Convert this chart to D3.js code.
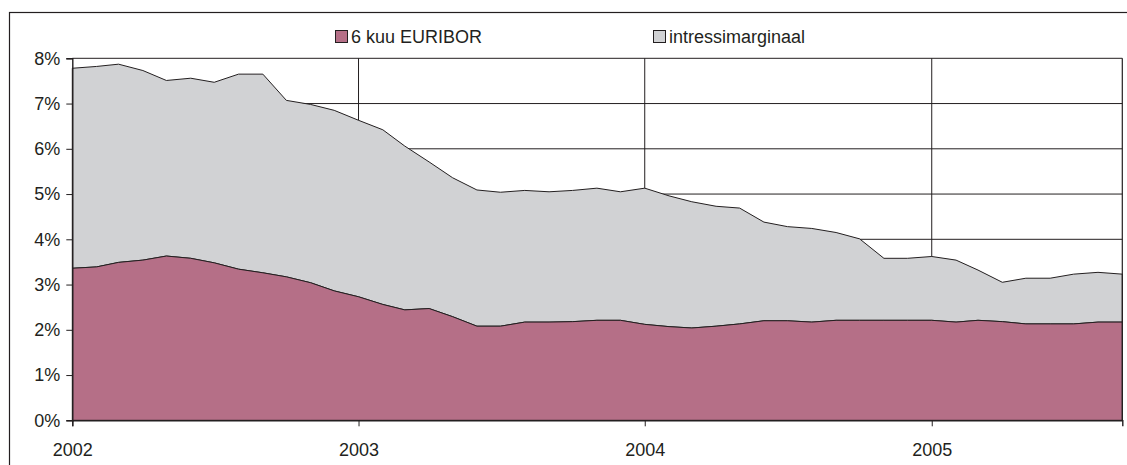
<!DOCTYPE html>
<html>
<head>
<meta charset="utf-8">
<script src="https://cdn.jsdelivr.net/npm/d3@7"></script>
<style>
  html, body { margin: 0; padding: 0; background: #ffffff; }
  svg { display: block; }
  text { font-family: "Liberation Sans", Arial, Helvetica, sans-serif; fill: #231F20; }
</style>
</head>
<body>
<svg id="chart" width="1127" height="465"></svg>
<script>
(function () {
// ---- data ----
const months = [
  "2002-01","2002-02","2002-03","2002-04","2002-05","2002-06","2002-07","2002-08","2002-09","2002-10","2002-11","2002-12",
  "2003-01","2003-02","2003-03","2003-04","2003-05","2003-06","2003-07","2003-08","2003-09","2003-10","2003-11","2003-12",
  "2004-01","2004-02","2004-03","2004-04","2004-05","2004-06","2004-07","2004-08","2004-09","2004-10","2004-11","2004-12",
  "2005-01","2005-02","2005-03","2005-04","2005-05","2005-06","2005-07","2005-08","2005-09"
];
const euribor = [
  3.36, 3.39, 3.49, 3.54, 3.63, 3.58, 3.48, 3.34, 3.26, 3.17, 3.04, 2.86,
  2.73, 2.56, 2.44, 2.47, 2.29, 2.08, 2.08, 2.17, 2.17, 2.18, 2.21, 2.21,
  2.12, 2.07, 2.04, 2.08, 2.13, 2.20, 2.20, 2.17, 2.21, 2.21, 2.21, 2.21,
  2.21, 2.17, 2.21, 2.18, 2.13, 2.13, 2.13, 2.17, 2.17
];
const margin = [
  4.42, 4.43, 4.38, 4.19, 3.88, 3.98, 3.99, 4.31, 4.39, 3.90, 3.94, 3.99,
  3.90, 3.86, 3.62, 3.24, 3.07, 3.01, 2.96, 2.91, 2.88, 2.90, 2.92, 2.84,
  3.01, 2.89, 2.79, 2.65, 2.56, 2.18, 2.08, 2.07, 1.94, 1.80, 1.37, 1.37,
  1.41, 1.37, 1.11, 0.87, 1.01, 1.01, 1.10, 1.10, 1.06
];
const seriesNames = ["6 kuu EURIBOR", "intressimarginaal"];
const seriesColors = ["#B56F87", "#D1D2D4"];
const yTicks = [0, 1, 2, 3, 4, 5, 6, 7, 8];
const xTickYears = ["2002", "2003", "2004", "2005"];

// ---- layout ----
const svg = d3.select("#chart");
const pLeft = 72.3, pRight = 1122.3, pTop = 58.3, pBottom = 420.3;
const ink = "#231F20";
const parseM = d3.timeParse("%Y-%m");
const parseY = d3.timeParse("%Y");

const table = months.map((m, i) => ({ date: parseM(m), euribor: euribor[i], margin: margin[i] }));

const x = d3.scaleTime()
  .domain([parseM(months[0]), parseM(months[months.length - 1])])
  .range([pLeft, pRight]);
const y = d3.scaleLinear().domain([0, 8]).range([pBottom, pTop]);

// outer border
svg.append("rect")
  .attr("x", 9.5).attr("y", 12.5)
  .attr("width", 1140).attr("height", 480)
  .attr("fill", "none").attr("stroke", ink).attr("stroke-width", 1.2);

// gridlines
const grid = svg.append("g");
grid.selectAll("line.h").data(yTicks.filter(d => d > 0)).join("line")
  .attr("class", "h")
  .attr("x1", pLeft).attr("x2", pRight)
  .attr("y1", d => y(d)).attr("y2", d => y(d))
  .attr("stroke", ink).attr("stroke-width", 1);
grid.selectAll("line.v").data(xTickYears.slice(1)).join("line")
  .attr("class", "v")
  .attr("x1", d => x(parseY(d))).attr("x2", d => x(parseY(d)))
  .attr("y1", pTop).attr("y2", pBottom)
  .attr("stroke", ink).attr("stroke-width", 1);

// stacked areas
const stack = d3.stack().keys(["euribor", "margin"]);
const layers = stack(table);
const area = d3.area()
  .x(d => x(d.data.date))
  .y0(d => y(d[0]))
  .y1(d => y(d[1]));

svg.append("g").selectAll("path").data(layers.slice().reverse()).join("path")
  .attr("d", area)
  .attr("fill", (d) => seriesColors[d.index])
  .attr("stroke", ink)
  .attr("stroke-width", 1)
  .attr("stroke-linejoin", "round");

// plot right border
svg.append("line")
  .attr("x1", pRight).attr("x2", pRight).attr("y1", pTop).attr("y2", pBottom)
  .attr("stroke", ink).attr("stroke-width", 1.2);

// axes
const yAxis = d3.axisLeft(y)
  .tickValues(yTicks)
  .tickFormat(d => d + "%")
  .tickSize(6)
  .tickPadding(6);
const gy = svg.append("g").attr("transform", `translate(${pLeft},0)`).call(yAxis);
gy.selectAll("text").style("font-size", "18px").attr("fill", ink);

const xAxis = d3.axisBottom(x)
  .tickValues(xTickYears.map(parseY))
  .tickFormat(d3.timeFormat("%Y"))
  .tickSize(6)
  .tickPadding(17);
const gx = svg.append("g").attr("transform", `translate(0,${pBottom})`).call(xAxis);
gx.selectAll("text").style("font-size", "18px").attr("fill", ink);

[gx, gy].forEach(g => {
  g.select(".domain").attr("stroke", ink).attr("stroke-width", 1.4);
  g.selectAll(".tick line").attr("stroke", ink).attr("stroke-width", 1);
});

// legend
const legendX = [335, 653];
const leg = svg.append("g");
seriesNames.forEach((name, i) => {
  leg.append("rect")
    .attr("x", legendX[i] + 0.5).attr("y", 30.5)
    .attr("width", 12).attr("height", 12)
    .attr("fill", seriesColors[i]).attr("stroke", ink).attr("stroke-width", 1);
  leg.append("text")
    .attr("x", legendX[i] + 16).attr("y", 43)
    .style("font-size", "18px")
    .text(name);
});
})();
</script>
</body>
</html>
